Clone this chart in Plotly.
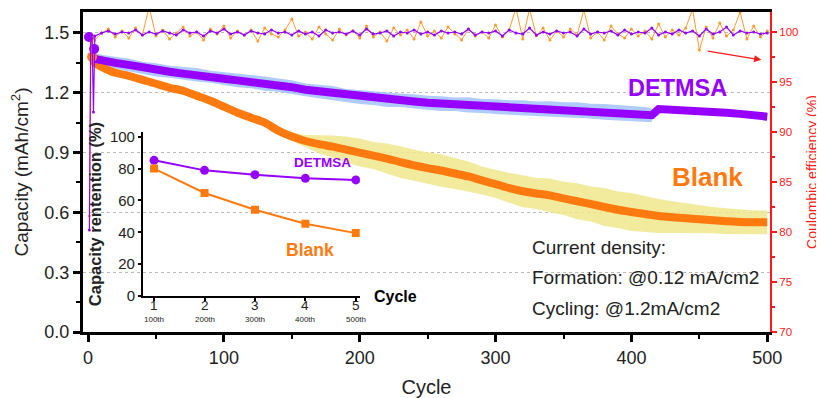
import plotly.graph_objects as go

# ---------------- data ----------------
det_cycles = [5, 10, 20, 30, 40, 50, 60, 70, 80, 90, 100, 110, 120, 130, 140, 150, 160, 170, 180, 190,
              200, 210, 220, 230, 240, 250, 260, 270, 280, 290, 300, 310, 320, 330, 340, 350, 360, 370,
              380, 390, 400, 410, 415, 420, 430, 440, 450, 460, 470, 480, 490, 500]
det_cap = [1.37, 1.36, 1.35, 1.34, 1.325, 1.315, 1.305, 1.296, 1.29, 1.28, 1.27, 1.262, 1.255, 1.246,
           1.238, 1.228, 1.215, 1.207, 1.198, 1.186, 1.178, 1.172, 1.166, 1.162, 1.156, 1.15, 1.146,
           1.142, 1.139, 1.134, 1.13, 1.126, 1.124, 1.12, 1.118, 1.115, 1.112, 1.108, 1.104, 1.1,
           1.097, 1.092, 1.087, 1.118, 1.116, 1.112, 1.108, 1.104, 1.1, 1.094, 1.088, 1.08]
det_band = [0.03, 0.03, 0.03, 0.032, 0.03, 0.033, 0.03, 0.032, 0.034, 0.03, 0.033, 0.035, 0.032,
            0.036, 0.033, 0.035, 0.032, 0.034, 0.036, 0.033, 0.035, 0.034, 0.037, 0.034, 0.036,
            0.035, 0.037, 0.034, 0.038, 0.035, 0.037, 0.036, 0.038, 0.036, 0.039, 0.037, 0.04,
            0.037, 0.039, 0.038, 0.037, 0.036, 0.035]

blank_cycles = [3, 5, 10, 20, 30, 40, 50, 60, 70, 80, 90, 100, 110, 120, 130, 140, 150, 160, 170, 180,
                190, 200, 210, 220, 230, 240, 250, 260, 270, 280, 290, 300, 310, 320, 330, 340, 350,
                360, 370, 380, 390, 400, 410, 420, 430, 440, 450, 460, 470, 480, 490, 500]
blank_cap = [1.38, 1.35, 1.33, 1.30, 1.285, 1.265, 1.245, 1.225, 1.21, 1.185, 1.16, 1.13, 1.10, 1.075,
             1.05, 1.01, 0.98, 0.958, 0.942, 0.93, 0.915, 0.90, 0.885, 0.87, 0.852, 0.836, 0.822,
             0.81, 0.795, 0.78, 0.76, 0.742, 0.722, 0.706, 0.695, 0.685, 0.67, 0.656, 0.642, 0.627,
             0.613, 0.602, 0.592, 0.582, 0.576, 0.571, 0.566, 0.561, 0.556, 0.552, 0.55, 0.55]
blank_band_cycles = [140, 150, 160, 170, 180, 190, 200, 210, 220, 230, 240, 250, 260, 270, 280, 290,
                     300, 310, 320, 330, 340, 350, 360, 370, 380, 390, 400, 410, 420, 430, 440, 450,
                     460, 470, 480, 490, 500]
blank_band = [0.01, 0.02, 0.03, 0.045, 0.055, 0.065, 0.07, 0.068, 0.075, 0.08, 0.078, 0.08, 0.082,
              0.078, 0.075, 0.07, 0.07, 0.075, 0.08, 0.078, 0.085, 0.083, 0.09, 0.088, 0.095, 0.092,
              0.095, 0.09, 0.085, 0.08, 0.075, 0.07, 0.066, 0.065, 0.062, 0.06, 0.06]

det_first_cycles = [0.7, 4.5]
det_first_cap = [1.48, 1.42]
blank_first_cycles = [3]
blank_first_cap = [1.38]

ce_cycles = [1, 2, 3, 4] + list(range(5, 501, 5))
ce_blank = [81.6, 97.5, 99.0, 99.5,
            99.2, 99.9, 100.3, 99.5, 100.1, 99.4, 100.4, 99.7, 102.5, 99.6,
            100.2, 99.3, 99.9, 100.5, 99.6, 100.0, 99.2, 100.3, 99.8, 100.6,
            99.4, 100.1, 99.7, 100.2, 99.1, 100.4, 99.8, 99.5, 100.2, 101.3,
            99.6, 100.0, 99.3, 100.5, 99.8, 99.2, 100.3, 99.7, 100.1, 99.4,
            100.6, 99.5, 100.0, 99.1, 100.4, 99.7, 100.2, 99.3, 101.0, 99.6,
            100.1, 99.4, 100.5, 99.8, 99.2, 100.3, 99.6, 100.0, 99.4, 100.7,
            99.5, 100.2, 102.4, 99.3, 102.3, 99.6, 100.4, 99.2, 100.1, 99.5,
            100.3, 99.7, 102.2, 99.4, 100.0, 99.2, 100.6, 99.8, 99.4, 100.3,
            99.6, 100.1, 99.3, 100.8, 99.5, 100.2, 99.7, 100.4, 102.3, 98.2,
            100.5, 99.4, 100.9, 99.6, 100.2, 102.0, 99.3, 100.6, 99.5, 100.1]
ce_det = [80.2, 99.6, 99.4, 92.0,
          99.6, 99.9, 100.1, 99.8, 100.0, 99.9, 100.2, 99.7, 100.0, 99.8,
          100.1, 99.9, 99.7, 100.2, 99.9, 100.0, 99.6, 100.1, 99.9, 100.3,
          99.8, 100.0, 99.7, 100.1, 99.9, 99.8, 100.2, 99.9, 100.0, 99.7,
          100.1, 99.8, 100.0, 99.6, 100.2, 99.9, 100.0, 99.8, 100.1, 99.7,
          100.3, 99.8, 99.9, 100.1, 99.6, 100.0, 99.9, 100.2, 99.8, 100.0,
          99.7, 100.1, 99.9, 100.0, 99.8, 100.3, 99.7, 100.0, 99.9, 100.1,
          99.6, 100.2, 99.9, 99.8, 100.4, 99.7, 100.0, 99.8, 100.1, 99.9,
          100.0, 99.6, 100.3, 99.8, 100.0, 99.9, 100.1, 99.7, 100.2, 99.8,
          100.0, 99.9, 100.4, 99.7, 100.0, 99.8, 100.2, 99.9, 100.1, 99.6,
          100.3, 99.8, 100.0, 100.5, 99.7, 100.1, 99.9, 100.0, 99.8, 99.9]

inset_x = [1, 2, 3, 4, 5]
inset_ticktext = ["1", "2", "3", "4", "5"]
inset_subtext = ["100th", "200th", "300th", "400th", "500th"]
inset_det = [85.2, 78.9, 76.2, 73.9, 72.9]
inset_blank = [80.0, 64.7, 54.2, 45.4, 39.5]

# ---------------- style ----------------
PURPLE = "#9500FF"
ORANGE = "#FF7A0E"
BLUE_BAND = "rgba(150,185,255,0.75)"
YELLOW_BAND = "rgba(240,232,140,0.85)"
RED = "#FF1A1A"
TXT = "#222222"
FONT = "Liberation Sans, Arial, sans-serif"

fig = go.Figure()

# DETMSA band
nb = len(det_band)
fig.add_trace(go.Scatter(x=det_cycles[:nb], y=[c + h for c, h in zip(det_cap[:nb], det_band)],
                         mode="lines", line=dict(width=0), showlegend=False, hoverinfo="skip"))
fig.add_trace(go.Scatter(x=det_cycles[:nb], y=[c - h for c, h in zip(det_cap[:nb], det_band)],
                         mode="lines", line=dict(width=0), fill="tonexty", fillcolor=BLUE_BAND,
                         showlegend=False, hoverinfo="skip"))
# Blank band
bmap = dict(zip(blank_cycles, blank_cap))
bcent = [bmap.get(c, blank_cap[-1]) for c in blank_band_cycles]
fig.add_trace(go.Scatter(x=blank_band_cycles, y=[c + h for c, h in zip(bcent, blank_band)],
                         mode="lines", line=dict(width=0), showlegend=False, hoverinfo="skip"))
fig.add_trace(go.Scatter(x=blank_band_cycles, y=[c - h for c, h in zip(bcent, blank_band)],
                         mode="lines", line=dict(width=0), fill="tonexty", fillcolor=YELLOW_BAND,
                         showlegend=False, hoverinfo="skip"))

# capacity lines
fig.add_trace(go.Scatter(x=blank_cycles, y=blank_cap, mode="lines",
                         line=dict(color=ORANGE, width=8, shape="spline", smoothing=0.6), showlegend=False))
fig.add_trace(go.Scatter(x=det_cycles, y=det_cap, mode="lines",
                         line=dict(color=PURPLE, width=8), showlegend=False))
fig.add_trace(go.Scatter(x=blank_first_cycles, y=blank_first_cap, mode="markers",
                         marker=dict(color=ORANGE, size=10), showlegend=False))
fig.add_trace(go.Scatter(x=det_first_cycles, y=det_first_cap, mode="markers",
                         marker=dict(color=PURPLE, size=10), showlegend=False))

# Coulombic efficiency
fig.add_trace(go.Scatter(x=ce_cycles, y=ce_blank, yaxis="y2", mode="lines+markers",
                         line=dict(color="#FF9A30", width=1), marker=dict(size=3, color="#FF9A30"),
                         showlegend=False))
fig.add_trace(go.Scatter(x=ce_cycles, y=ce_det, yaxis="y2", mode="lines+markers",
                         line=dict(color=PURPLE, width=1.2), marker=dict(size=3, color=PURPLE),
                         showlegend=False))

# inset
fig.add_trace(go.Scatter(x=inset_x, y=inset_det, xaxis="x2", yaxis="y3", mode="lines+markers",
                         line=dict(color=PURPLE, width=2), marker=dict(color=PURPLE, size=9, symbol="circle"),
                         showlegend=False))
fig.add_trace(go.Scatter(x=inset_x, y=inset_blank, xaxis="x2", yaxis="y3", mode="lines+markers",
                         line=dict(color=ORANGE, width=2), marker=dict(color=ORANGE, size=8, symbol="square"),
                         showlegend=False))

annotations = [
    dict(x=434, y=1.224, xref="x", yref="y", text="<b>DETMSA</b>", showarrow=False,
         font=dict(size=23.5, color=PURPLE, family=FONT)),
    dict(x=456, y=0.778, xref="x", yref="y", text="<b>Blank</b>", showarrow=False,
         font=dict(size=26, color=ORANGE, family=FONT)),
    dict(x=325, y=0.426, xref="x", yref="y", text="Current density:", showarrow=False,
         xanchor="left", font=dict(size=19, color=TXT, family=FONT)),
    dict(x=325, y=0.271, xref="x", yref="y", text="Formation: @0.12 mA/cm2", showarrow=False,
         xanchor="left", font=dict(size=19, color=TXT, family=FONT)),
    dict(x=325, y=0.12, xref="x", yref="y", text="Cycling: @1.2mA/cm2", showarrow=False,
         xanchor="left", font=dict(size=19, color=TXT, family=FONT)),
    dict(x=495.6, y=1.365, xref="x", yref="y", ax=-55, ay=-9, text="", showarrow=True,
         arrowhead=2, arrowsize=1.2, arrowwidth=1.2, arrowcolor=RED),
    dict(x=4.34, y=83.8, xref="x2", yref="y3", text="<b>DETMSA</b>", showarrow=False,
         font=dict(size=13.5, color=PURPLE, family=FONT)),
    dict(x=4.09, y=29, xref="x2", yref="y3", text="<b>Blank</b>", showarrow=False,
         font=dict(size=17.5, color=ORANGE, family=FONT)),
    dict(x=0.421, y=0.1125, xref="paper", yref="paper", text="<b>Cycle</b>", showarrow=False,
         xanchor="left", yanchor="middle", font=dict(size=16, color="black", family=FONT)),
]
for xi, tt, st in zip(inset_x, inset_ticktext, inset_subtext):
    annotations.append(dict(x=xi, y=0.083, xref="x2", yref="paper", text=tt, showarrow=False,
                            yanchor="middle", font=dict(size=13.5, color=TXT, family=FONT)))
    annotations.append(dict(x=xi, y=0.040, xref="x2", yref="paper", text=st, showarrow=False,
                            yanchor="middle", font=dict(size=8, color=TXT, family=FONT)))

# the page body keeps its default 8px margin, so the figure is sized to fill the rest of the window
fig.update_layout(
    width=816, height=390,
    margin=dict(l=75, r=54, t=4, b=66, autoexpand=False),
    paper_bgcolor="white", plot_bgcolor="rgba(0,0,0,0)",
    font=dict(family=FONT, color=TXT),
    showlegend=False,
    xaxis=dict(domain=[0, 1], range=[-3.7, 502], tickvals=[0, 100, 200, 300, 400, 500],
               showline=True, linewidth=3, linecolor="black", mirror=True, automargin=False,
               ticks="outside", ticklen=7, tickwidth=3, tickcolor="black",
               minor=dict(tickvals=[50, 150, 250, 350, 450], ticklen=4, tickwidth=2, tickcolor="black"),
               showgrid=False, zeroline=False, tickfont=dict(size=18, color=TXT),
               title=dict(text="Cycle", font=dict(size=20, color=TXT), standoff=14)),
    yaxis=dict(range=[0, 1.605], tickvals=[0, 0.3, 0.6, 0.9, 1.2, 1.5], tickformat=".1f",
               showline=True, linewidth=3, linecolor="black", automargin=False,
               ticks="outside", ticklen=7, tickwidth=3, tickcolor="black",
               minor=dict(tickvals=[0.15, 0.45, 0.75, 1.05, 1.35], ticklen=4, tickwidth=2,
                          tickcolor="black", showgrid=False),
               showgrid=True, gridcolor="#BBBBBB", griddash="dot", gridwidth=1, zeroline=False,
               tickfont=dict(size=18, color=TXT),
               title=dict(text="Capacity (mAh/cm<sup>2</sup>)", font=dict(size=19, color=TXT),
                          standoff=12)),
    yaxis2=dict(overlaying="y", side="right", anchor="x", range=[70, 102], automargin=False,
                tickvals=[70, 75, 80, 85, 90, 95, 100],
                showline=True, linewidth=2, linecolor=RED,
                ticks="outside", ticklen=5, tickwidth=2, tickcolor=RED,
                minor=dict(tickvals=[72.5, 77.5, 82.5, 87.5, 92.5, 97.5], ticklen=3, tickwidth=1.5,
                           tickcolor=RED),
                showgrid=False, zeroline=False, tickfont=dict(size=11.5, color=RED),
                title=dict(text="Coulombic efficiency (%)", font=dict(size=14, color=RED), standoff=10)),
    xaxis2=dict(domain=[0.0873, 0.403], anchor="y3", range=[0.78, 5.08], automargin=False,
                tickvals=inset_x, showticklabels=False,
                showline=True, linewidth=2, linecolor="black",
                ticks="outside", ticklen=3, tickwidth=1.5, tickcolor="black",
                showgrid=False, zeroline=False),
    yaxis3=dict(domain=[0.1125, 0.625], anchor="x2", range=[0, 103], automargin=False,
                tickvals=[0, 20, 40, 60, 80, 100],
                showline=True, linewidth=2, linecolor="black",
                ticks="outside", ticklen=3, tickwidth=1.5, tickcolor="black",
                showgrid=False, zeroline=False, tickfont=dict(size=15, color=TXT),
                title=dict(text="<b>Capacity rentention (%)</b>", font=dict(size=16.5, color=TXT),
                           standoff=4)),
    annotations=annotations,
)

fig.write_html("out.html")
